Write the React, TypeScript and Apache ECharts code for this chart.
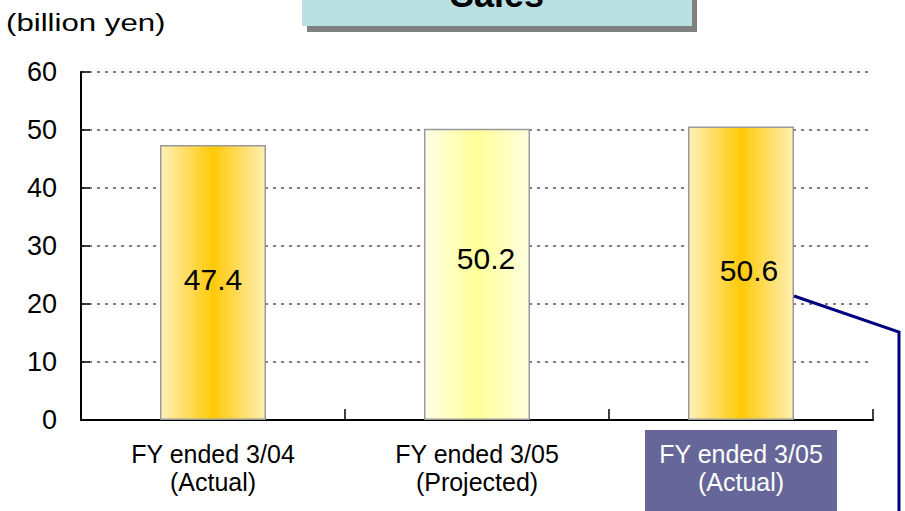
import React, { useEffect, useRef } from "react";
import * as echarts from "echarts";

const categories = ["FY ended 3/04\n(Actual)", "FY ended 3/05\n(Projected)", "FY ended 3/05\n(Actual)"];
const salesValues = [47.4, 50.2, 50.6];
const yTicks = { min: 0, max: 60, interval: 10 };
const titleText = "Sales";
const unitText = "(billion yen)";

const FONT = 'Arial, "Liberation Sans", sans-serif';

const orangeGrad = {
  type: "linear", x: 0, y: 0, x2: 1, y2: 0,
  colorStops: [
    { offset: 0, color: "#FFF0B8" },
    { offset: 0.5, color: "#FFC908" },
    { offset: 1, color: "#FFEFB3" },
  ],
};
const yellowGrad = {
  type: "linear", x: 0, y: 0, x2: 1, y2: 0,
  colorStops: [
    { offset: 0, color: "#FFFFE6" },
    { offset: 0.5, color: "#FFFF99" },
    { offset: 1, color: "#FFFFE0" },
  ],
};
const barFills = [orangeGrad, yellowGrad, orangeGrad];
const labelOffsets = [[0, -3], [9, -16], [8, -3]];

export default function App() {
  const ref = useRef<HTMLDivElement>(null);
  useEffect(() => {
    if (!ref.current) return;
    const chart = echarts.init(ref.current, null, { renderer: "svg" });
    const option: any = {
      animation: false,
      backgroundColor: "#FFFFFF",
      textStyle: { fontFamily: FONT },
      grid: { left: 81, right: 32, top: 72, bottom: 91, containLabel: false, outerBoundsMode: "none" },
      xAxis: {
        type: "category",
        data: categories.map((c, i) => ({
          value: c,
          textStyle: i === 2
            ? { color: "#FFFFFF", backgroundColor: "#666699" }
            : { color: "#000000" },
        })),
        axisLine: { show: true, lineStyle: { color: "#000000", width: 2 } },
        axisTick: { show: true, inside: true, length: 11, lineStyle: { color: "#000000", width: 1.5 } },
        axisLabel: {
          interval: 0,
          fontSize: 25,
          lineHeight: 28,
          fontFamily: FONT,
          margin: 10,
          padding: [10, 14, 18, 14],
          color: "#000000",
        },
      },
      yAxis: {
        type: "value",
        min: yTicks.min,
        max: yTicks.max,
        interval: yTicks.interval,
        axisLine: { show: true, lineStyle: { color: "#000000", width: 2 } },
        axisTick: { show: true, inside: true, length: 9, lineStyle: { color: "#000000", width: 1.5 } },
        axisLabel: { fontSize: 27, color: "#000000", margin: 24, fontFamily: FONT },
        splitLine: { show: true, lineStyle: { color: "#808080", width: 2, type: [3, 5] } },
      },
      series: [
        {
          type: "bar",
          barWidth: 106,
          data: salesValues.map((v, i) => ({
            value: v,
            itemStyle: { color: barFills[i] },
            label: { offset: labelOffsets[i] },
          })),
          itemStyle: { borderColor: "#999999", borderWidth: 1.5 },
          label: {
            show: true,
            position: "inside",
            fontSize: 30,
            color: "#000000",
            fontFamily: FONT,
          },
        },
      ],
      graphic: [
        { type: "rect", shape: { x: 307, y: -30, width: 390, height: 62 }, style: { fill: "#808080" }, z: 10 },
        { type: "rect", shape: { x: 302, y: -36, width: 390, height: 62 }, style: { fill: "#B9E0E2" }, z: 11 },
        {
          type: "text", x: 497, y: -6, z: 12,
          style: { text: titleText, fontSize: 36, fontWeight: "bold", fill: "#000000", align: "center", verticalAlign: "middle", fontFamily: FONT },
        },
        {
          type: "text", x: 6, y: 23, z: 12, scaleX: 1.3,
          style: { text: unitText, fontSize: 24, fill: "#000000", align: "left", verticalAlign: "middle", fontFamily: FONT },
        },
        {
          type: "polyline", z: 12,
          shape: { points: [[794, 296], [899, 332], [899, 520]] },
          style: { stroke: "#000080", lineWidth: 3, fill: "none" },
        },
      ],
    };
    chart.setOption(option);
    return () => chart.dispose();
  }, []);
  return (
    <div
      ref={ref}
      style={{ position: "fixed", left: 0, top: 0, width: 905, height: 511, background: "#FFFFFF" }}
    />
  );
}
